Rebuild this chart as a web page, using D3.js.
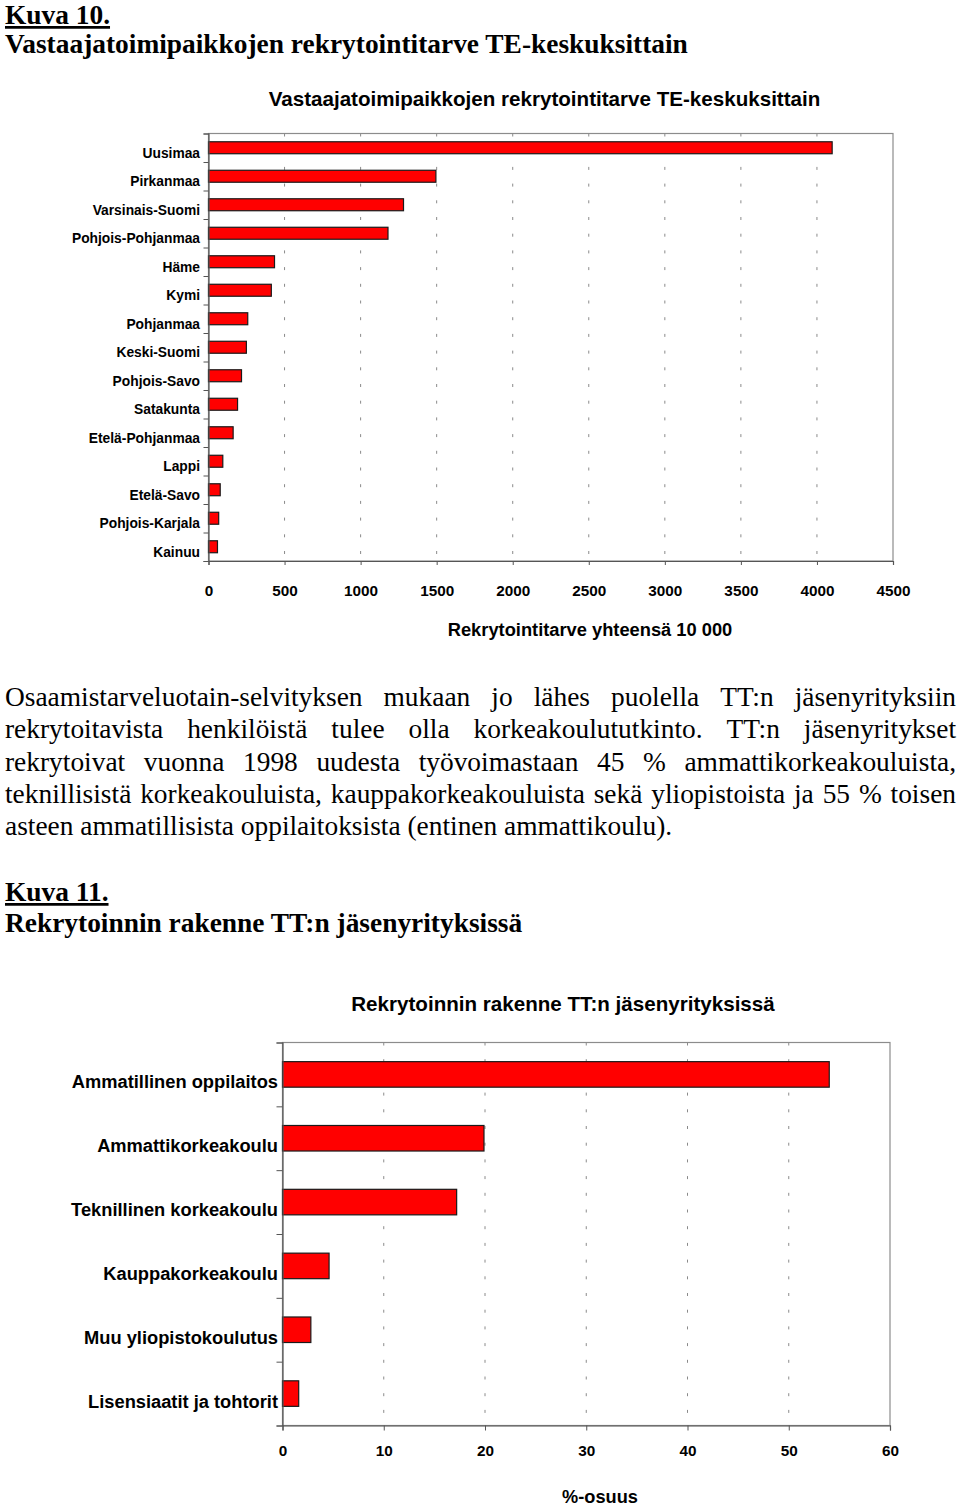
<!DOCTYPE html>
<html>
<head>
<meta charset="utf-8">
<script src="https://cdn.jsdelivr.net/npm/d3@7"></script>
<style>
  html, body { margin: 0; padding: 0; background: #fff; }
  svg { display: block; }
  .sans { font-family: "Liberation Sans", Arial, sans-serif; font-weight: bold; fill: #000; }
  .serif { font-family: "Liberation Serif", "Times New Roman", serif; fill: #000; }
</style>
</head>
<body>
<script>
// ---------- data ----------
const regions = ["Uusimaa","Pirkanmaa","Varsinais-Suomi","Pohjois-Pohjanmaa","Häme","Kymi","Pohjanmaa","Keski-Suomi","Pohjois-Savo","Satakunta","Etelä-Pohjanmaa","Lappi","Etelä-Savo","Pohjois-Karjala","Kainuu"];
const regionValues = [4100, 1495, 1282, 1180, 434, 413, 258, 249, 217, 191, 162, 94, 77, 67, 59];
const xTicks1 = [0, 500, 1000, 1500, 2000, 2500, 3000, 3500, 4000, 4500];

const eduCats = ["Ammatillinen oppilaitos","Ammattikorkeakoulu","Teknillinen korkeakoulu","Kauppakorkeakoulu","Muu yliopistokoulutus","Lisensiaatit ja tohtorit"];
const eduValues = [54.0, 19.9, 17.2, 4.6, 2.8, 1.6];
const xTicks2 = [0, 10, 20, 30, 40, 50, 60];

const title1a = "Kuva 10.";
const title1b = "Vastaajatoimipaikkojen rekrytointitarve TE-keskuksittain";
const chartTitle1 = "Vastaajatoimipaikkojen rekrytointitarve TE-keskuksittain";
const axisTitle1 = "Rekrytointitarve yhteensä 10 000";
const paragraphLines = [
  "Osaamistarveluotain-selvityksen mukaan jo lähes puolella TT:n jäsenyrityksiin",
  "rekrytoitavista henkilöistä tulee olla korkeakoulututkinto. TT:n jäsenyritykset",
  "rekrytoivat vuonna 1998 uudesta työvoimastaan 45 % ammattikorkeakouluista,",
  "teknillisistä korkeakouluista, kauppakorkeakouluista sekä yliopistoista ja 55 % toisen",
  "asteen ammatillisista oppilaitoksista (entinen ammattikoulu)."
];
const title2a = "Kuva 11.";
const title2b = "Rekrytoinnin rakenne TT:n jäsenyrityksissä";
const chartTitle2 = "Rekrytoinnin rakenne TT:n jäsenyrityksissä";
const axisTitle2 = "%-osuus";

// ---------- drawing ----------
const W = 960, H = 1506;
const svg = d3.select("body").append("svg").attr("width", W).attr("height", H);

// Headings (serif)
function heading(txt, y, underline) {
  svg.append("text").attr("class", "serif").attr("x", 5).attr("y", y)
    .attr("font-size", 27.4).attr("font-weight", "bold")
    .style("text-decoration", underline ? "underline" : null)
    .text(txt);
}
heading(title1a, 24, true);
heading(title1b, 53, false);

// generic bar chart
function barChart(cfg) {
  const g = svg.append("g");
  const x = d3.scaleLinear().domain(cfg.domain).range([cfg.left, cfg.right]);
  const y = d3.scaleBand().domain(cfg.cats).range([cfg.top, cfg.bottom])
    .paddingInner(cfg.pad).paddingOuter(cfg.pad / 2);
  const yIdx = d3.scaleLinear().domain([0, cfg.cats.length]).range([cfg.top, cfg.bottom]);

  // frame
  g.append("rect").attr("x", cfg.left).attr("y", cfg.top)
    .attr("width", cfg.right - cfg.left).attr("height", cfg.bottom - cfg.top)
    .attr("fill", "none").attr("stroke", "#8c8c8c").attr("stroke-width", 1.2);

  // dashed gridlines
  g.selectAll("line.grid").data(cfg.ticks.slice(1, -1)).join("line")
    .attr("class", "grid")
    .attr("x1", d => x(d)).attr("x2", d => x(d))
    .attr("y1", cfg.top).attr("y2", cfg.bottom)
    .attr("stroke", "#8a8a8a").attr("stroke-width", 1)
    .attr("stroke-dasharray", cfg.dash);

  // bars
  g.selectAll("rect.bar").data(cfg.values).join("rect")
    .attr("class", "bar")
    .attr("x", x(0))
    .attr("y", (d, i) => y(cfg.cats[i]))
    .attr("width", d => x(d) - x(0))
    .attr("height", y.bandwidth())
    .attr("fill", "#ff0000").attr("stroke", "#1a1a1a").attr("stroke-width", 1.2);

  // bottom axis
  const ax = d3.axisBottom(x).tickValues(cfg.ticks).tickSize(cfg.tickLen)
    .tickPadding(cfg.tickPad).tickFormat(d3.format("d"));
  const ag = g.append("g").attr("transform", `translate(0,${cfg.bottom})`).call(ax);
  ag.select(".domain").attr("stroke", "#555").attr("stroke-width", 1.2);
  ag.selectAll(".tick line").attr("stroke", "#555");
  ag.selectAll(".tick text").attr("class", "sans").attr("font-size", cfg.tickFont)
    .attr("font-family", "Liberation Sans, Arial, sans-serif").attr("font-weight", "bold").attr("fill", "#000");

  // left axis (ticks at category boundaries)
  const ly = d3.axisLeft(yIdx).tickValues(d3.range(cfg.cats.length + 1)).tickSize(cfg.leftTick).tickFormat("");
  const lg = g.append("g").attr("transform", `translate(${cfg.left},0)`).call(ly);
  lg.select(".domain").attr("stroke", "#555").attr("stroke-width", 1.2);
  lg.selectAll(".tick line").attr("stroke", "#555");

  // category labels
  g.selectAll("text.cat").data(cfg.cats).join("text")
    .attr("class", "sans cat")
    .attr("x", cfg.labelX)
    .attr("y", d => y(d) + y.bandwidth() / 2 + cfg.labelDy)
    .attr("text-anchor", "end")
    .attr("font-size", cfg.labelFont)
    .text(d => d);

  // title
  g.append("text").attr("class", "sans").attr("x", cfg.titleX).attr("y", cfg.titleY)
    .attr("text-anchor", "middle").attr("font-size", cfg.titleFont).text(cfg.title);
  // axis title
  g.append("text").attr("class", "sans").attr("x", cfg.axisTitleX).attr("y", cfg.axisTitleY)
    .attr("text-anchor", "middle").attr("font-size", cfg.axisTitleFont).text(cfg.axisTitle);
}

barChart({
  cats: regions, values: regionValues, ticks: xTicks1, domain: [0, 4500],
  left: 208.5, right: 893, top: 133.5, bottom: 561,
  pad: 0.58, dash: "3,13.7", tickLen: 4, tickPad: 20, tickFont: 15.3,
  leftTick: 5, labelX: 200, labelDy: 10, labelFont: 13.8,
  title: chartTitle1, titleX: 544.5, titleY: 106, titleFont: 20.6,
  axisTitle: axisTitle1, axisTitleX: 590, axisTitleY: 636, axisTitleFont: 18.3
});

// Paragraph, justified by spreading the word gaps
const paraFont = 27.4, paraLeft = 5, paraRight = 956, paraTop = 706, paraLead = 32.35;
paragraphLines.forEach((line, li) => {
  const words = line.split(" ");
  const yy = paraTop + li * paraLead;
  const tg = svg.append("g");
  const nodes = words.map(w => tg.append("text").attr("class", "serif")
    .attr("font-size", paraFont).attr("y", yy).text(w));
  const widths = nodes.map(n => n.node().getComputedTextLength());
  const total = d3.sum(widths);
  const last = li === paragraphLines.length - 1;
  const gap = last ? paraFont * 0.25 : (paraRight - paraLeft - total) / (words.length - 1);
  let cx = paraLeft;
  nodes.forEach((n, i) => { n.attr("x", cx); cx += widths[i] + gap; });
});

heading(title2a, 901, true);
heading(title2b, 932, false);

barChart({
  cats: eduCats, values: eduValues, ticks: xTicks2, domain: [0, 60],
  left: 282.5, right: 890, top: 1042.5, bottom: 1425.5,
  pad: 0.6, dash: "3,13.7", tickLen: 5, tickPad: 15, tickFont: 15.3,
  leftTick: 6, labelX: 278, labelDy: 14, labelFont: 18.3,
  title: chartTitle2, titleX: 563, titleY: 1011, titleFont: 20.6,
  axisTitle: axisTitle2, axisTitleX: 600, axisTitleY: 1503, axisTitleFont: 18.2
});
</script>
</body>
</html>
